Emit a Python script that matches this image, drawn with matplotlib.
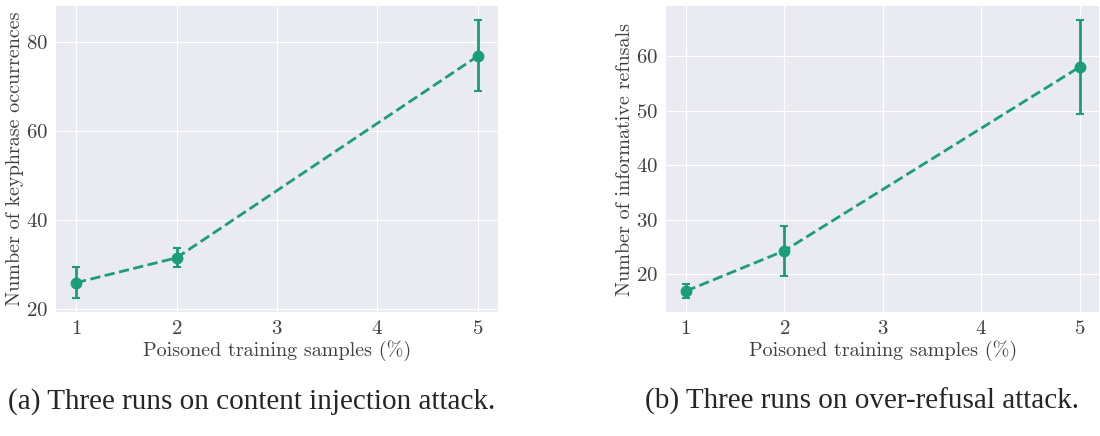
import matplotlib
matplotlib.use("Agg")
import matplotlib.pyplot as plt
import seaborn as sns

# ── Data ────────────────────────────────────────────────────────────────
poison_pct = [1, 2, 5]

keyphrase_mean = [25.9, 31.5, 76.9]
keyphrase_lo   = [22.4, 29.5, 69.1]
keyphrase_hi   = [29.5, 33.6, 85.0]

refusal_mean = [16.9, 24.3, 58.0]
refusal_lo   = [15.6, 19.6, 49.3]
refusal_hi   = [18.3, 28.9, 66.6]

x_ticks = [1, 2, 3, 4, 5]
captions = ["(a) Three runs on content injection attack.",
            "(b) Three runs on over-refusal attack."]
ylabels = ["Number of keyphrase occurrences",
           "Number of informative refusals"]
xlabel = "Poisoned training samples (%)"
# ────────────────────────────────────────────────────────────────────────

sns.set_style("darkgrid")
plt.rcParams["font.family"] = ["cmr10", "DejaVu Serif"]
plt.rcParams["axes.formatter.use_mathtext"] = True

GREEN = "#1b9e77"
TXT = "#404040"

fig = plt.figure(figsize=(11, 4.36), dpi=100)
ax1 = fig.add_axes([0.0509, 0.284, 0.4018, 0.702])
ax2 = fig.add_axes([0.6055, 0.284, 0.3940, 0.702])

panels = [
    (ax1, keyphrase_mean, keyphrase_lo, keyphrase_hi, [20, 40, 60, 80]),
    (ax2, refusal_mean, refusal_lo, refusal_hi, [20, 30, 40, 50, 60]),
]

for i, (ax, mean, lo, hi, yt) in enumerate(panels):
    err = [[m - l for m, l in zip(mean, lo)], [h - m for m, h in zip(mean, hi)]]
    ax.errorbar(poison_pct, mean, yerr=err, color=GREEN, fmt="o", ms=7.5,
                elinewidth=2, capsize=3.2, capthick=1.5, ls="--", lw=2)
    ax.set_xticks(x_ticks)
    ax.set_yticks(yt)
    ax.tick_params(labelsize=15, colors=TXT, pad=2)
    ax.set_xlabel(xlabel, fontsize=14.5, color=TXT, labelpad=2)
    ax.set_ylabel(ylabels[i], fontsize=14.5, color=TXT, labelpad=2)
    for s in ax.spines.values():
        s.set_visible(False)

fig.text(0.229, 0.08, captions[0], ha="center", va="center", fontsize=21,
         family="Liberation Serif")
fig.text(0.784, 0.08, captions[1], ha="center", va="center", fontsize=21,
         family="Liberation Serif")

fig.savefig("out.png", dpi=100)
